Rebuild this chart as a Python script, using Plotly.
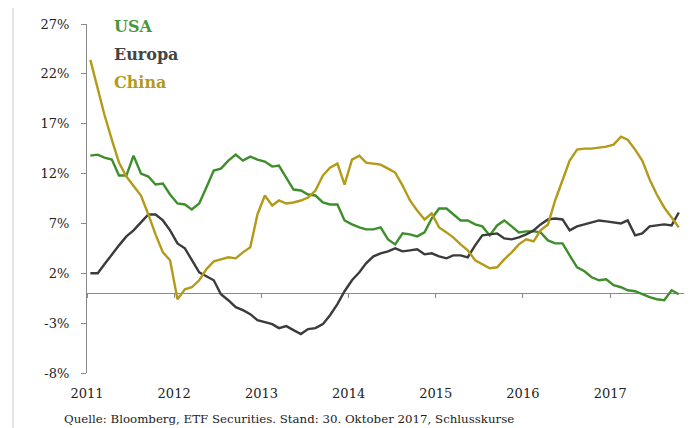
import plotly.graph_objects as go

# Monthly observations, Jan 2011 .. Oct 2017 (82 points)
months = [f"{2011 + i // 12}-{i % 12 + 1:02d}-15" for i in range(82)]

usa = [13.8, 13.9, 13.6, 13.4, 11.8, 11.8, 13.8, 12.0, 11.7, 10.9,
       11.0, 9.9, 9.0, 8.9, 8.4, 9.0, 10.6, 12.3, 12.5, 13.3,
       13.9, 13.3, 13.7, 13.4, 13.2, 12.7, 12.8, 11.6, 10.4, 10.3,
       9.9, 9.8, 9.1, 8.9, 8.9, 7.3, 6.9, 6.6, 6.4, 6.4,
       6.6, 5.4, 4.9, 6.0, 5.9, 5.7, 6.1, 7.5, 8.5, 8.5,
       7.9, 7.3, 7.3, 6.9, 6.7, 5.8, 6.8, 7.3, 6.7, 6.1,
       6.2, 6.2, 6.1, 5.3, 5.0, 5.0, 3.8, 2.6, 2.2, 1.6,
       1.3, 1.4, 0.8, 0.6, 0.3, 0.2, -0.1, -0.4, -0.6, -0.7,
       0.3, -0.1]

europa = [2.0, 2.0, 2.9, 3.9, 4.8, 5.7, 6.3, 7.1, 7.9, 7.9,
          7.3, 6.3, 5.0, 4.5, 3.4, 2.1, 1.7, 1.3, -0.1, -0.7,
          -1.4, -1.7, -2.1, -2.7, -2.9, -3.1, -3.5, -3.3, -3.7, -4.1,
          -3.6, -3.5, -3.1, -2.2, -1.1, 0.2, 1.3, 2.1, 3.0, 3.7,
          4.0, 4.2, 4.5, 4.2, 4.3, 4.4, 3.9, 4.0, 3.7, 3.5,
          3.8, 3.8, 3.6, 4.8, 5.8, 5.9, 6.0, 5.5, 5.4, 5.6,
          5.9, 6.3, 6.9, 7.4, 7.5, 7.4, 6.3, 6.7, 6.9, 7.1,
          7.3, 7.2, 7.1, 7.0, 7.3, 5.8, 6.0, 6.7, 6.8, 6.9,
          6.8, 8.1]

china = [23.4, 20.6, 17.9, 15.4, 13.1, 11.7, 10.8, 9.8, 7.9, 5.9,
         4.1, 3.3, -0.6, 0.4, 0.6, 1.3, 2.4, 3.2, 3.4, 3.6,
         3.5, 4.1, 4.6, 7.9, 9.8, 8.8, 9.3, 9.0, 9.1, 9.3,
         9.6, 10.3, 11.8, 12.6, 13.0, 10.9, 13.4, 13.8, 13.1, 13.0,
         12.9, 12.5, 12.1, 10.8, 9.3, 8.3, 7.4, 8.0, 6.6, 6.1,
         5.6, 4.9, 4.3, 3.3, 2.9, 2.5, 2.6, 3.4, 4.1, 4.9,
         5.4, 5.2, 6.3, 6.9, 9.3, 11.4, 13.3, 14.4, 14.5, 14.5,
         14.6, 14.7, 14.9, 15.7, 15.4, 14.4, 13.3, 11.4, 9.9, 8.6,
         7.6, 6.6]

series_names = ["USA", "Europa", "China"]
line_colors = ["#3e8e2c", "#3b3b3b", "#b39a1a"]
label_colors = ["#4a9638", "#444444", "#b39a1a"]
y_ticks = [-8, -3, 2, 7, 12, 17, 22, 27]
year_ticks = ["2011", "2012", "2013", "2014", "2015", "2016", "2017"]
source_text = "Quelle: Bloomberg, ETF Securities. Stand: 30. Oktober 2017, Schlusskurse"

x_range = ["2011-01-01", "2017-12-01"]
y_range = [-8, 27]

fig = go.Figure()
for name, vals, col in zip(series_names, [usa, europa, china], line_colors):
    fig.add_trace(go.Scatter(x=months, y=vals, name=name, mode="lines",
                             line=dict(color=col, width=2.4),
                             showlegend=False))

# invisible helper trace for the tick axis on the zero line
fig.add_trace(go.Scatter(x=[months[0]], y=[0], xaxis="x2", mode="markers",
                         marker=dict(opacity=0), showlegend=False,
                         hoverinfo="skip"))

serif = "DejaVu Serif"
zero_pos = (0 - y_range[0]) / (y_range[1] - y_range[0])

# page body adds an 8px offset, so the figure is 8px smaller on each axis
fig.update_layout(
    width=684, height=420,
    margin=dict(l=79, r=2, t=16, b=55),
    paper_bgcolor="white", plot_bgcolor="white",
    font=dict(family=serif, color="#333333"),
    xaxis=dict(type="date", range=x_range, showgrid=False, showline=False,
               zeroline=False, ticks="", tickmode="array",
               tickvals=[f"{y}-01-01" for y in year_ticks], ticktext=year_ticks,
               tickfont=dict(family=serif, size=13, color="#222222"),
               ticklabelstandoff=11),
    xaxis2=dict(type="date", range=x_range, overlaying="x", anchor="free",
                position=zero_pos, showgrid=False, showline=False, zeroline=False,
                ticks="outside", ticklen=4, tickcolor="#8a8a8a", tickwidth=1,
                tickmode="array", tickvals=[f"{y}-01-01" for y in year_ticks],
                showticklabels=False),
    yaxis=dict(range=y_range, tickmode="array", tickvals=y_ticks,
               ticktext=[f"{v}%" for v in y_ticks],
               showgrid=False, showline=True, linecolor="#8a8a8a", linewidth=1,
               ticks="outside", ticklen=5, tickcolor="#8a8a8a",
               zeroline=True, zerolinecolor="#8a8a8a", zerolinewidth=1,
               tickfont=dict(family=serif, size=13, color="#222222"),
               ticklabelstandoff=9),
)

# legend as coloured text
legend_y = [0.993, 0.913, 0.833]
for name, col, yy in zip(series_names, label_colors, legend_y):
    fig.add_annotation(text=f"<b>{name}</b>", xref="paper", yref="paper",
                       x=0.041, y=yy, xanchor="left", yanchor="middle",
                       showarrow=False,
                       font=dict(family=serif, size=16, color=col))

fig.add_annotation(text=source_text, xref="paper", yref="paper",
                   x=-0.041, y=-0.133, xanchor="left", yanchor="middle",
                   showarrow=False,
                   font=dict(family=serif, size=11.8, color="#222222"))

# thin page rule at the far left
fig.add_shape(type="line", xref="paper", yref="paper",
              x0=-0.1227, x1=-0.1227, y0=-0.16, y1=1.05,
              line=dict(color="#c8c8c8", width=1))

fig.write_html("out.html")
